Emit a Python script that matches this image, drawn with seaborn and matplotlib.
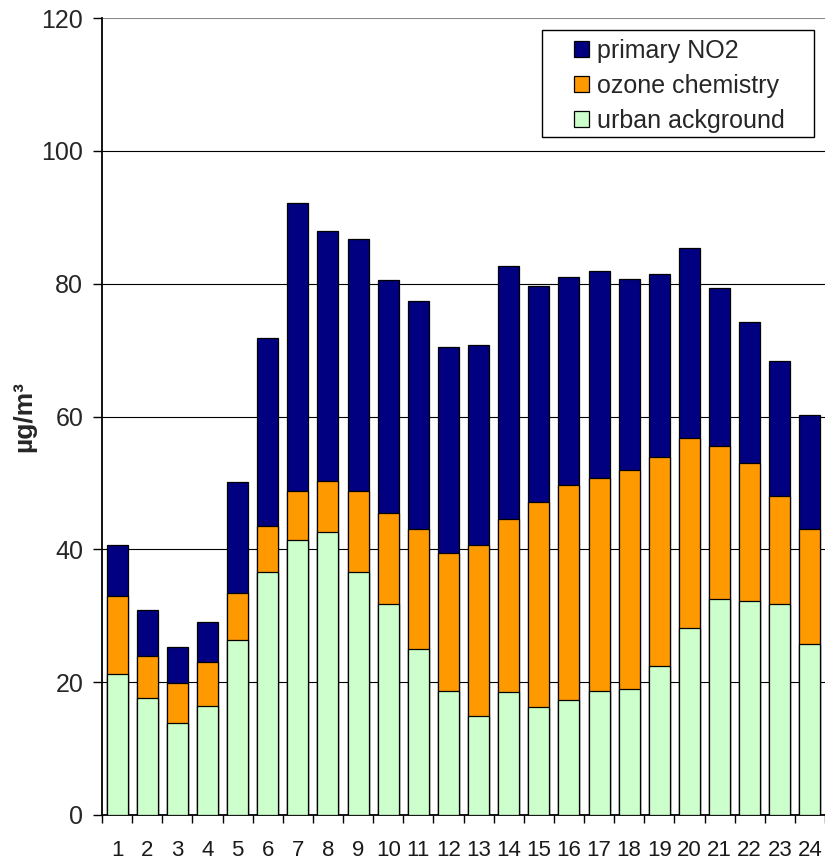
import numpy as np
import pandas as pd
import seaborn as sns
import matplotlib
matplotlib.use("Agg")
import matplotlib.pyplot as plt
from matplotlib.patches import Patch, Rectangle

# Hourly NO2 contributions (µg/m³), hours 1..24
hours = [str(h) for h in range(1, 25)]
urban_background = [21.2, 17.6, 13.9, 16.4, 26.3, 36.6, 41.4, 42.6, 36.6, 31.8, 25.0, 18.7,
                    14.9, 18.5, 16.2, 17.3, 18.7, 19.0, 22.4, 28.2, 32.5, 32.2, 31.8, 25.7]
ozone_chemistry = [11.7, 6.4, 6.0, 6.6, 7.1, 6.9, 7.4, 7.7, 12.2, 13.7, 18.0, 20.7,
                   25.7, 26.0, 30.9, 32.4, 32.1, 32.9, 31.5, 28.6, 23.1, 20.8, 16.3, 17.3]
primary_no2 = [7.8, 6.9, 5.4, 6.0, 16.7, 28.3, 43.3, 37.7, 37.9, 35.0, 34.4, 31.0,
               30.2, 38.2, 32.5, 31.3, 31.1, 28.8, 27.5, 28.5, 23.7, 21.2, 20.3, 17.2]

series_names = ["primary NO2", "ozone chemistry", "urban ackground"]
series_colors = ["#000080", "#FF9900", "#CCFFCC"]
y_ticks = [0, 20, 40, 60, 80, 100, 120]

df = pd.DataFrame({
    "hour": hours,
    "urban": urban_background,
    "ozone": ozone_chemistry,
    "primary": primary_no2,
})
df["level2"] = df["urban"] + df["ozone"]
df["level3"] = df["level2"] + df["primary"]

sns.set_style("white")
plt.rcParams["font.family"] = ["Liberation Sans", "DejaVu Sans"]

W, H = 825, 865
fig = plt.figure(figsize=(W / 100, H / 100), dpi=100)
ax = fig.add_axes([102 / W, 50 / H, (W - 102) / W, (815 - 18) / H])

# Stacked bars: draw cumulative heights from the top layer down
for col, color in zip(["level3", "level2", "urban"], series_colors):
    sns.barplot(data=df, x="hour", y=col, color=color, saturation=1, width=0.7,
                edgecolor="black", linewidth=0.9, errorbar=None, ax=ax, zorder=3)

ax.set_xlim(-0.5, 23.5)
ax.set_ylim(0, 120)
ax.set_yticks(y_ticks)
ax.set_yticklabels([str(v) for v in y_ticks], fontsize=18)
ax.yaxis.grid(True, color="black", linewidth=0.8, zorder=0)
ax.yaxis.get_gridlines()[-1].set_color("#8c8c8c")
ax.set_axisbelow(True)

for side in ["top", "right"]:
    ax.spines[side].set_visible(False)
for side in ["left", "bottom"]:
    ax.spines[side].set_color("black")
    ax.spines[side].set_linewidth(1.3)

ax.tick_params(axis="y", which="major", direction="out", length=6.5, width=1,
               color="black", pad=7, left=True)
ax.set_xticks(range(24))
ax.set_xticklabels(hours, fontsize=16, color="#1a1a1a")
ax.tick_params(axis="x", which="major", length=0, pad=18)
ax.set_xticks(np.arange(-0.5, 24, 1), minor=True)
ax.tick_params(axis="x", which="minor", direction="out", length=6, width=1,
               color="black", bottom=True)

ax.set_xlabel("")
ax.set_ylabel("µg/m³", fontsize=19, fontweight="bold", labelpad=4)

# Legend box
fig.add_artist(Rectangle((542 / W, (H - 137) / H), 272 / W, 107 / H,
                         transform=fig.transFigure, facecolor="white",
                         edgecolor="black", linewidth=1.0, zorder=5))
handles = [Patch(facecolor=c, edgecolor="black", linewidth=0.9) for c in series_colors]
leg = fig.legend(handles, series_names, loc="upper left",
                 bbox_to_anchor=(574 / W, (H - 39) / H), frameon=False,
                 fontsize=18, borderpad=0, borderaxespad=0, handlelength=0.6,
                 handleheight=0.6, handletextpad=0.32, labelspacing=0.44)
leg.set_zorder(6)

fig.savefig("out.png", dpi=100)
